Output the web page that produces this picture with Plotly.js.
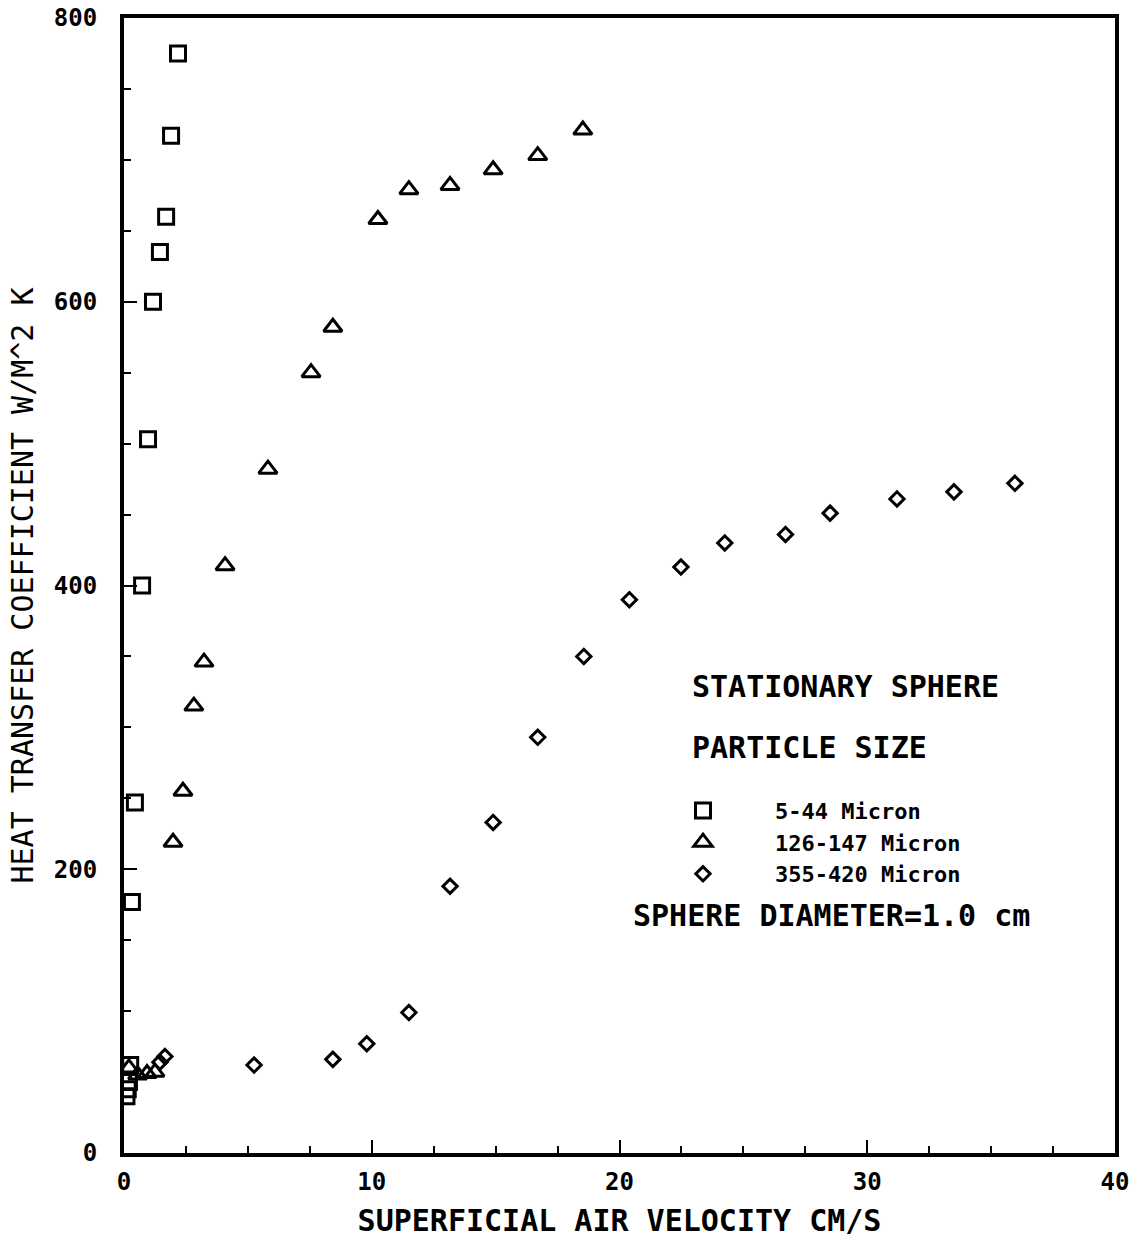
<!DOCTYPE html>
<html>
<head>
<meta charset="utf-8">
<script src="https://cdn.plot.ly/plotly-3.0.1.min.js"></script>
<style>html,body{margin:0;padding:0;background:#fff;}#chart{width:1142px;height:1240px;}</style>
</head>
<body>
<div id="chart"></div>
<script>
// 5-44 Micron (squares)
const sqX = [0.10, 0.15, 0.20, 0.25, 0.32, 0.44, 0.73, 0.97, 1.17, 1.45, 1.70, 1.90, 2.18];
const sqY = [40, 45, 50, 62, 177, 247, 400, 503, 600, 635, 660, 717, 775];
// 126-147 Micron (triangles)
const triX = [0.20, 0.55, 0.93, 1.25, 1.98, 2.38, 2.82, 3.23, 4.08, 5.81, 7.55, 8.43, 10.25, 11.50, 13.16, 14.90, 16.70, 18.52];
const triY = [60, 55, 56, 57, 219, 255, 315, 346, 414, 482, 550, 582, 658, 679, 682, 693, 703, 721];
// 355-420 Micron (diamonds)
const diaX = [1.45, 1.65, 5.25, 8.43, 9.80, 11.50, 13.16, 14.90, 16.70, 18.56, 20.40, 22.48, 24.25, 26.70, 28.50, 31.20, 33.50, 35.96];
const diaY = [64, 68, 62, 66, 77, 99, 188, 233, 293, 350, 390, 413, 430, 436, 451, 461, 466, 472];

const seriesNames = ["5-44 Micron", "126-147 Micron", "355-420 Micron"];
const xTickVals = [0, 10, 20, 30, 40];
const yTickVals = [0, 200, 400, 600, 800];

const FONT = "DejaVu Sans Mono, monospace";

const traces = [
  {x: sqX, y: sqY, name: seriesNames[0], type: "scatter", mode: "markers",
   marker: {symbol: "square-open", size: 15, color: "#000", line: {width: 3, color: "#000"}}},
  {x: triX, y: triY, name: seriesNames[1], type: "scatter", mode: "markers",
   marker: {symbol: "triangle-up-open", size: 16, color: "#000", line: {width: 3, color: "#000"}}},
  {x: diaX, y: diaY, name: seriesNames[2], type: "scatter", mode: "markers",
   marker: {symbol: "diamond-open", size: 11, color: "#000", line: {width: 3, color: "#000"}}}
];

const layout = {
  width: 1142, height: 1240,
  margin: {l: 124, r: 27, t: 18, b: 87},
  paper_bgcolor: "#fff", plot_bgcolor: "#fff",
  font: {family: FONT, color: "#000", size: 22},
  showlegend: true,
  legend: {
    x: 0.5116, y: 0.32, xanchor: "left", yanchor: "top",
    font: {family: FONT, size: 22, color: "#000", weight: "bold"},
    bgcolor: "rgba(0,0,0,0)", itemwidth: 134, tracegroupgap: 0
  },
  xaxis: {
    range: [0, 40], tickvals: xTickVals, ticktext: xTickVals.map(String),
    ticks: "inside", ticklen: 13, tickwidth: 2, tickcolor: "#000",
    minor: {ticks: "inside", dtick: 2.5, ticklen: 7, tickwidth: 2, tickcolor: "#000"},
    showline: true, linewidth: 4, linecolor: "#000", mirror: true,
    showgrid: false, zeroline: false,
    tickfont: {family: FONT, size: 24, color: "#000", weight: "bold"},
    ticklabelstandoff: 4,
    title: {text: "SUPERFICIAL AIR VELOCITY CM/S", font: {family: FONT, size: 30, color: "#000", weight: "bold"}, standoff: 16}
  },
  yaxis: {
    range: [0, 800], tickvals: yTickVals, ticktext: yTickVals.map(String),
    ticks: "inside", ticklen: 13, tickwidth: 2, tickcolor: "#000",
    minor: {ticks: "inside", dtick: 50, ticklen: 7, tickwidth: 2, tickcolor: "#000"},
    showline: true, linewidth: 4, linecolor: "#000", mirror: true,
    showgrid: false, zeroline: false,
    tickfont: {family: FONT, size: 24, color: "#000", weight: "bold"},
    ticklabelstandoff: 18,
    title: {text: "HEAT TRANSFER COEFFICIENT W/M^2 K", font: {family: FONT, size: 30, color: "#000"}, standoff: 12}
  },
  annotations: [
    {xref: "paper", yref: "paper", x: 0.571, y: (1153 - 686) / 1135, xanchor: "left", yanchor: "middle",
     text: "STATIONARY SPHERE", showarrow: false, font: {family: FONT, size: 30, color: "#000", weight: "bold"}},
    {xref: "paper", yref: "paper", x: 0.571, y: (1153 - 747) / 1135, xanchor: "left", yanchor: "middle",
     text: "PARTICLE SIZE", showarrow: false, font: {family: FONT, size: 30, color: "#000", weight: "bold"}},
    {xref: "paper", yref: "paper", x: 0.512, y: (1153 - 915) / 1135, xanchor: "left", yanchor: "middle",
     text: "SPHERE DIAMETER=1.0 cm", showarrow: false, font: {family: FONT, size: 30, color: "#000", weight: "bold"}}
  ]
};

Plotly.newPlot("chart", traces, layout, {displayModeBar: false, staticPlot: true});
</script>
</body>
</html>
